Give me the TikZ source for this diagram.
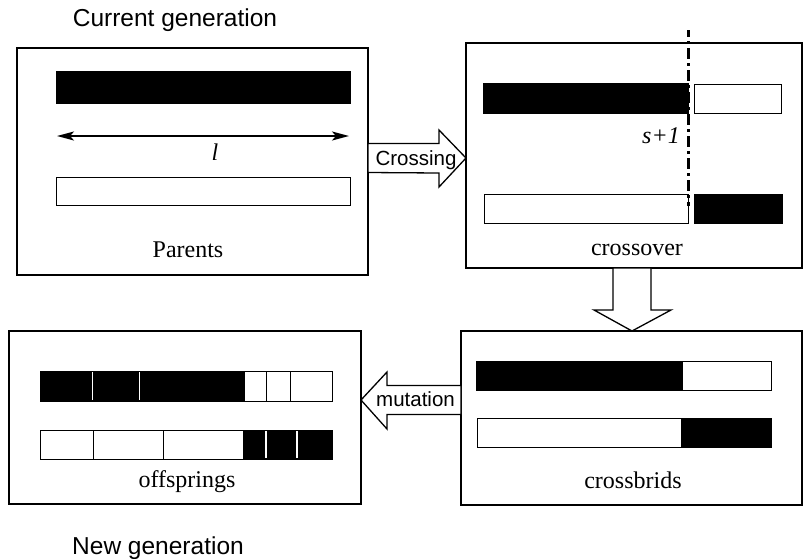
\documentclass[tikz,border=0pt]{standalone}
\usepackage{fontspec}
\setmainfont{Liberation Serif}
\setsansfont{Liberation Sans}
\usetikzlibrary{calc,arrows.meta}
\begin{document}
\begin{tikzpicture}[x=1pt,y=-1pt,
  panel/.style={draw, line width=1.3pt, inner sep=0pt, outer sep=0pt, anchor=north west},
  bar/.style={draw, line width=1pt},
  blockarrow/.style={draw, line width=1.3pt, fill=white, line join=miter},
  serifl/.style={font=\fontsize{24}{28}\selectfont, inner sep=0pt, anchor=base},
  sansl/.style={font=\sffamily\fontsize{24.5}{28}\selectfont, inner sep=0pt, anchor=base},
  arrl/.style={font=\sffamily\fontsize{20.5}{24}\selectfont, inner sep=0pt, anchor=base},
  cutline/.style={line width=3pt, dash pattern=on 11pt off 4pt on 3pt off 4pt, dash phase=-18pt}]
\useasboundingbox (0,0) rectangle (804,558);

% headings
\node[sansl] (cur) at (175,26) {Current generation};
\node[sansl] (new) at (158,554) {New generation};

% panels
\node[panel, minimum width=351pt, minimum height=227pt] (parents) at (17,48) {};
\node[panel, minimum width=336pt, minimum height=225pt] (cross) at (466,43) {};
\node[panel, minimum width=341pt, minimum height=174pt] (hyb) at (461,331) {};
\node[panel, minimum width=352pt, minimum height=173pt] (off) at (9,331) {};

% parents
\draw[bar, fill=black] (56,71) rectangle (350,103);
\draw[bar] (56,177) rectangle (350,205);
\draw[line width=2pt, {Stealth[length=17pt,width=9pt,inset=4pt]}-{Stealth[length=17pt,width=9pt,inset=4pt]}] (57,136) -- (349,136);
\node[serifl] (len) at (215,160) {\textit{l}};
\node[serifl] (plab) at (188,257) {Parents};

% crossover
\draw[bar, fill=black] (483,83) rectangle (688,113);
\draw[bar] (694,84) rectangle (781,113);
\draw[bar] (484,194) rectangle (688,223);
\draw[bar, fill=black] (694,194) rectangle (782,223);
\draw[cutline] (688,30) -- (688,206);
\node[serifl] (cut) at (661,143) {\textit{s+1}};
\node[serifl] (clab) at (637,255) {crossover};

% crossbrids
\draw[bar, fill=black] (476,361) rectangle (682,390);
\draw[bar] (682,361) rectangle (771,390);
\draw[bar] (477,418) rectangle (681,447);
\draw[bar, fill=black] (681,418) rectangle (771,447);
\node[serifl] (hlab) at (633,488) {crossbrids};

% offsprings
\draw[bar, fill=black] (40,371) rectangle (244,401);
\draw[bar] (244,371) rectangle (332,401);
\draw[line width=1.8pt, white] (92.5,372) -- (92.5,400) (139.5,372) -- (139.5,400);
\draw[line width=1pt] (266,371) -- (266,401) (290,371) -- (290,401);
\draw[bar] (40,430) rectangle (243,459);
\draw[bar, fill=black] (243,430) rectangle (332,459);
\draw[line width=1pt] (93,430) -- (93,459) (163,430) -- (163,459);
\draw[line width=1.8pt, white] (266,431) -- (266,458) (297,431) -- (297,458);
\node[serifl] (olab) at (187,487) {offsprings};

% block arrows between the panels
\coordinate (xTail) at (parents.east |- 0,158);
\coordinate (xTip) at (cross.west |- 0,158);
\draw[blockarrow] ($(xTail)+(0,-14.5)$) -- ++(71,0) -- ++(0,-13.5) -- (xTip)
  -- ($(xTip)+(-27,29)$) -- ++(0,-14) -- ($(xTail)+(0,14.5)$) -- cycle;
\node[arrl] (xlab) at (416,165) {Crossing};

\coordinate (dTail) at (cross.south -| 632,0);
\coordinate (dTip) at (hyb.north -| 632,0);
\draw[blockarrow] ($(dTail)+(-19,0)$) -- ++(0,42) -- ++(-19,0) -- (dTip)
  -- ($(dTip)+(39,-21)$) -- ++(-20,0) -- ($(dTail)+(19,0)$) -- cycle;

\coordinate (mTail) at (hyb.west |- 0,400);
\coordinate (mTip) at (off.east |- 0,400);
\draw[blockarrow] ($(mTail)+(0,-14.5)$) -- ++(-74,0) -- ++(0,-13.5) -- (mTip)
  -- ($(mTip)+(26,29)$) -- ++(0,-14.5) -- ($(mTail)+(0,14.5)$) -- cycle;
\node[arrl] (mlab) at (415.5,406) {mutation};
\end{tikzpicture}
\end{document}
